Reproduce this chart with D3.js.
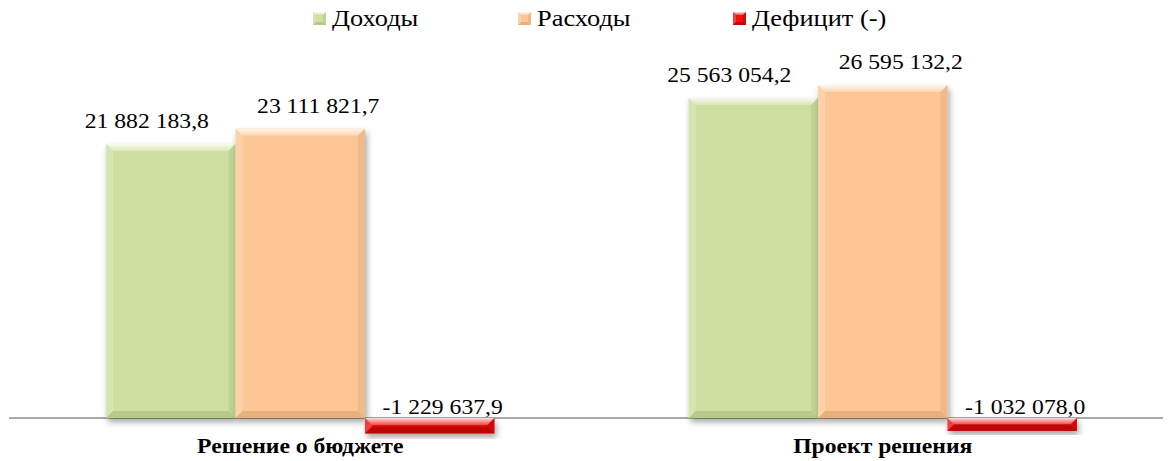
<!DOCTYPE html>
<html>
<head>
<meta charset="utf-8">
<script src="https://cdn.jsdelivr.net/npm/d3@7"></script>
<style>
  body { margin: 0; background: #fff; }
</style>
</head>
<body>
<div id="chart"></div>
<script>
// data
var categories = ["Решение о бюджете", "Проект решения"];
var seriesNames = ["Доходы", "Расходы", "Дефицит (-)"];
var dohody = [21882183.8, 25563054.2];
var rashody = [23111821.7, 26595132.2];
var deficit = [-1229637.9, -1032078.0];
var valueLabels = [
  ["21 882 183,8", "25 563 054,2"],
  ["23 111 821,7", "26 595 132,2"],
  ["-1 229 637,9", "-1 032 078,0"]
];

var seriesValues = [dohody, rashody, deficit];
var colors = ["#cedfa1", "#fcc794", "#f01010"];
var darkColors = ["#a9bd77", "#d9a170", "#a00000"];

var width = 1169, height = 461;
var font = "Liberation Serif";
var stretch = 1.1; // text in the picture is a bit wider than normal

var svg = d3.select("#chart").append("svg")
    .attr("width", width)
    .attr("height", height);

var defs = svg.append("defs");
var shadow = defs.append("filter").attr("id", "shadow")
    .attr("x", "-10%").attr("y", "-10%").attr("width", "130%").attr("height", "140%");
shadow.append("feDropShadow")
    .attr("dx", 2).attr("dy", 4).attr("stdDeviation", 3)
    .attr("flood-color", "#000").attr("flood-opacity", 0.35);

var hl = defs.append("linearGradient").attr("id", "topHl")
    .attr("x1", 0).attr("y1", 0).attr("x2", 0).attr("y2", 1);
hl.append("stop").attr("offset", "0%").attr("stop-color", "#fff").attr("stop-opacity", 0.85);
hl.append("stop").attr("offset", "100%").attr("stop-color", "#fff").attr("stop-opacity", 0.25);

var x0 = d3.scaleBand().domain(categories).range([9, 1174]).padding(0);
var x1 = d3.scaleBand().domain(seriesNames).range([0, x0.bandwidth()])
    .paddingInner(0).paddingOuter(0.75);
var y = d3.scaleLinear().domain([-2000000, 30000000]).range([443.04, 42.4]);

// axis line
svg.append("line")
    .attr("x1", 9).attr("x2", 1163)
    .attr("y1", y(0)).attr("y2", y(0))
    .attr("stroke", "#8c8c8c").attr("stroke-width", 1.5);

function bevelBar(g, w, h, i, size, withShadow) {
  var b = Math.min(size, h / 2);
  var r = g.append("rect").attr("width", w).attr("height", h)
      .attr("fill", colors[i]);
  if (withShadow) r.attr("filter", "url(#shadow)");
  g.append("polygon")
      .attr("points", [[0, 0], [w, 0], [w - b, b], [b, b]].join(" "))
      .attr("fill", "url(#topHl)");
  g.append("polygon")
      .attr("points", [[0, 0], [b, b], [b, h - b], [0, h]].join(" "))
      .attr("fill", "#fff").attr("fill-opacity", 0.2);
  g.append("polygon")
      .attr("points", [[w, 0], [w, h], [w - b, h - b], [w - b, b]].join(" "))
      .attr("fill", darkColors[i]).attr("fill-opacity", 0.35);
  g.append("polygon")
      .attr("points", [[0, h], [b, h - b], [w - b, h - b], [w, h]].join(" "))
      .attr("fill", darkColors[i]).attr("fill-opacity", 0.6);
}

// bars
var labelShift = [-24, 18, 13];
var groups = svg.selectAll("g.cat").data(categories).enter()
    .append("g").attr("class", "cat")
    .attr("transform", function (d) { return "translate(" + x0(d) + ",0)"; });

groups.each(function (cat, ci) {
  var g = d3.select(this);
  seriesNames.forEach(function (s, si) {
    var v = seriesValues[si][ci];
    var top = y(Math.max(0, v)), bot = y(Math.min(0, v));
    var bx = x1(s), bw = x1.bandwidth();
    var bar = g.append("g").attr("transform", "translate(" + bx + "," + top + ")");
    bevelBar(bar, bw, bot - top, si, 7, true);
    var ly = v >= 0 ? top - 16 : y(0) - 4;
    g.append("text")
        .attr("transform", "translate(" + (bx + bw / 2 + labelShift[si]) + "," + ly + ") scale(" + stretch + ",1)")
        .attr("text-anchor", "middle")
        .attr("font-family", font)
        .attr("font-size", 21.5)
        .text(valueLabels[si][ci]);
  });
  g.append("text")
      .attr("transform", "translate(" + (x0.bandwidth() / 2) + ",453) scale(" + stretch + ",1)")
      .attr("text-anchor", "middle")
      .attr("font-family", font)
      .attr("font-size", 21.5)
      .attr("font-weight", "bold")
      .text(cat);
});

// legend
var legendX = [313, 518, 733];
var legend = svg.selectAll("g.leg").data(seriesNames).enter()
    .append("g").attr("class", "leg")
    .attr("transform", function (d, i) { return "translate(" + legendX[i] + ",12)"; });
legend.each(function (s, i) {
  var g = d3.select(this);
  bevelBar(g.append("g"), 13, 13, i, 3, false);
  g.append("text")
      .attr("transform", "translate(19,14) scale(" + stretch + ",1)")
      .attr("font-family", font)
      .attr("font-size", 24)
      .text(s);
});
</script>
</body>
</html>
